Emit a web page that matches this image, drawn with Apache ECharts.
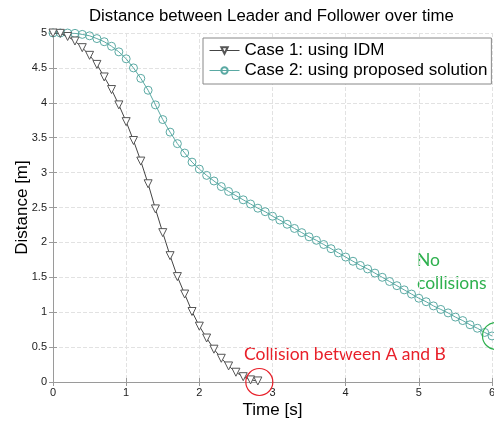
<!DOCTYPE html>
<html>
<head>
<meta charset="utf-8">
<script src="https://cdn.jsdelivr.net/npm/echarts@6/dist/echarts.min.js"></script>
<style>
    html, body { margin: 0; padding: 0; background: #fff; }
    #main { width: 494px; height: 421px; }
</style>
</head>
<body>
<div id="main"></div>
<script>
    // time samples (s)
    var time1 = [0, 0.1, 0.2, 0.3, 0.4, 0.5, 0.6, 0.7, 0.8, 0.9, 1.0, 1.1, 1.2, 1.3, 1.4,
        1.5, 1.6, 1.7, 1.8, 1.9, 2.0, 2.1, 2.2, 2.3, 2.4, 2.5, 2.6, 2.7, 2.8];
    var time2 = [0, 0.1, 0.2, 0.3, 0.4, 0.5, 0.6, 0.7, 0.8, 0.9, 1.0, 1.1, 1.2, 1.3, 1.4,
        1.5, 1.6, 1.7, 1.8, 1.9, 2.0, 2.1, 2.2, 2.3, 2.4, 2.5, 2.6, 2.7, 2.8, 2.9,
        3.0, 3.1, 3.2, 3.3, 3.4, 3.5, 3.6, 3.7, 3.8, 3.9, 4.0, 4.1, 4.2, 4.3, 4.4,
        4.5, 4.6, 4.7, 4.8, 4.9, 5.0, 5.1, 5.2, 5.3, 5.4, 5.5, 5.6, 5.7, 5.8, 5.9, 6.0];

    // distance (m)
    var case1 = [5.00, 4.995, 4.95, 4.885, 4.79, 4.68, 4.55, 4.37, 4.19, 3.97, 3.73, 3.46,
        3.165, 2.84, 2.48, 2.14, 1.81, 1.51, 1.26, 1.01, 0.80, 0.63, 0.47, 0.34, 0.23,
        0.14, 0.076, 0.03, 0.015];
    var case2 = [5.0, 5.0, 5.0, 4.995, 4.98, 4.96, 4.92, 4.875, 4.81, 4.73, 4.63, 4.50,
        4.35, 4.18, 3.97, 3.76, 3.58, 3.415, 3.28, 3.15, 3.05, 2.96, 2.88, 2.80, 2.73,
        2.67, 2.61, 2.55, 2.49, 2.44, 2.375, 2.32, 2.26, 2.20, 2.14, 2.08, 2.03, 1.97,
        1.91, 1.85, 1.79, 1.73, 1.67, 1.62, 1.56, 1.50, 1.44, 1.38, 1.32, 1.26, 1.20,
        1.15, 1.09, 1.04, 0.99, 0.93, 0.88, 0.82, 0.77, 0.71, 0.66];

    var seriesNames = ['Case 1: using IDM', 'Case 2: using proposed solution'];

    function pairs(xs, ys) {
        var out = [];
        for (var i = 0; i < xs.length; i++) out.push([xs[i], ys[i]]);
        return out;
    }

    var font = 'Liberation Sans, Arial, sans-serif';
    var noteFont = '17.5px Lato, "Open Sans", sans-serif';
    var axisGray = '#9a9a9a';

    var myChart = echarts.init(document.getElementById('main'));
    var option = {
        animation: false,
        textStyle: { fontFamily: font },
        title: {
            text: 'Distance between Leader and Follower over time',
            left: 89,
            top: 8,
            padding: 0,
            textStyle: { fontSize: 16.8, fontWeight: 'normal', color: '#000', fontFamily: font }
        },
        grid: { left: 53, right: 2, top: 33, bottom: 39, outerBoundsMode: 'none' },
        legend: {
            orient: 'vertical',
            left: 203,
            top: 38,
            itemWidth: 30,
            itemHeight: 8,
            itemGap: 3,
            padding: [4, 4, 5, 6],
            borderColor: '#888',
            borderWidth: 1,
            backgroundColor: '#fff',
            lineStyle: { width: 1 },
            textStyle: { fontSize: 17, color: '#000', fontFamily: font },
            data: seriesNames
        },
        xAxis: [{
            type: 'value',
            min: 0, max: 6, interval: 1,
            name: 'Time [s]',
            nameLocation: 'middle',
            nameGap: 20,
            nameMoveOverlap: false,
            nameTextStyle: { fontSize: 17, color: '#000' },
            axisLine: { onZero: false, lineStyle: { color: axisGray } },
            axisTick: { inside: true, length: 4, lineStyle: { color: axisGray } },
            axisLabel: { fontSize: 11, color: '#222', margin: 5 },
            splitLine: { lineStyle: { color: '#e2e2e2', type: 'dashed' } }
        }, {
            type: 'value', position: 'top',
            min: 0, max: 6, interval: 1,
            axisLine: { lineStyle: { color: axisGray } },
            axisTick: { inside: true, length: 4, lineStyle: { color: axisGray } },
            axisLabel: { show: false },
            splitLine: { show: false }
        }],
        yAxis: [{
            type: 'value',
            min: 0, max: 5, interval: 0.5,
            name: 'Distance [m]',
            nameLocation: 'middle',
            nameGap: 22,
            nameMoveOverlap: false,
            nameTextStyle: { fontSize: 17, color: '#000' },
            axisLine: { show: true, onZero: false, lineStyle: { color: axisGray } },
            axisTick: { show: true, inside: true, length: 4, lineStyle: { color: axisGray } },
            axisLabel: { fontSize: 11, color: '#222', margin: 6 },
            splitLine: { lineStyle: { color: '#e2e2e2', type: 'dashed' } }
        }, {
            type: 'value', position: 'right',
            min: 0, max: 5, interval: 0.5,
            axisLine: { show: true, lineStyle: { color: axisGray } },
            axisTick: { show: true, inside: true, length: 4, lineStyle: { color: axisGray } },
            axisLabel: { show: false },
            splitLine: { show: false }
        }],
        series: [
            {
                name: seriesNames[0],
                type: 'line',
                data: pairs(time1, case1),
                symbol: 'triangle',
                symbolRotate: 180,
                symbolSize: 8,
                showAllSymbol: true,
                color: '#555',
                lineStyle: { color: '#444', width: 1 },
                itemStyle: { color: '#fff', borderColor: '#555', borderWidth: 1 },
                z: 3,
                markPoint: {
                    symbol: 'circle',
                    symbolSize: 27,
                    silent: true,
                    label: { show: false },
                    itemStyle: { color: 'rgba(0,0,0,0)', borderColor: '#e8202a', borderWidth: 1.2 },
                    data: [{ coord: [2.82, 0] }]
                }
            },
            {
                name: seriesNames[1],
                type: 'line',
                data: pairs(time2, case2),
                symbol: 'circle',
                symbolSize: 8,
                showAllSymbol: true,
                color: '#5aa9a3',
                lineStyle: { color: '#5aa9a3', width: 1 },
                itemStyle: { color: 'rgba(255,255,255,0)', borderColor: '#5aa9a3', borderWidth: 1 },
                z: 2,
                markPoint: {
                    symbol: 'circle',
                    symbolSize: 27,
                    symbolOffset: [4, 0],
                    silent: true,
                    label: { show: false },
                    itemStyle: { color: 'rgba(0,0,0,0)', borderColor: '#2eb04e', borderWidth: 1.2 },
                    data: [{ coord: [6, 0.66] }]
                }
            }
        ],
        graphic: [
            {
                type: 'text', left: 244, top: 345,
                style: { text: 'Collision between A and B', fill: '#e8202a', font: noteFont }
            },
            {
                type: 'text', left: 417, top: 249,
                style: { text: 'No\ncollisions', fill: '#2eb04e', font: noteFont, lineHeight: 23 }
            }
        ]
    };
    myChart.setOption(option);
</script>
</body>
</html>
